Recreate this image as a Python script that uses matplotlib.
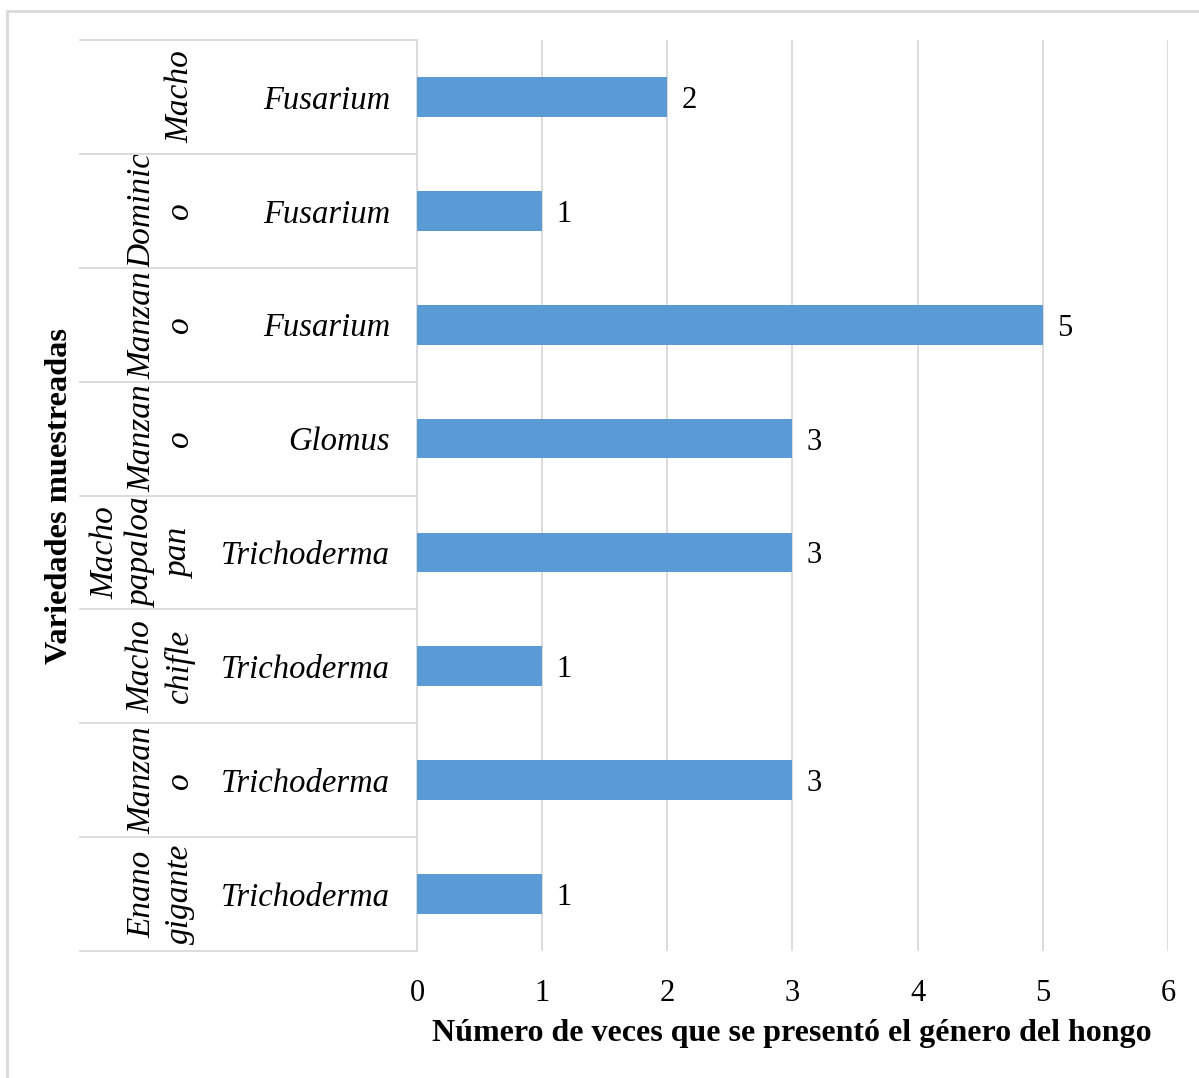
import matplotlib.pyplot as plt
from matplotlib.patches import Rectangle
from matplotlib.lines import Line2D
from matplotlib.transforms import blended_transform_factory

plt.rcParams['font.family'] = ['Liberation Serif', 'DejaVu Serif']

# data, top row first
variedades = ["Macho", "Dominic\no", "Manzan\no", "Manzan\no",
              "Macho\npapaloa\npan", "Macho\nchifle", "Manzan\no", "Enano\ngigante"]
generos = ["Fusarium", "Fusarium", "Fusarium", "Glomus",
           "Trichoderma", "Trichoderma", "Trichoderma", "Trichoderma"]
veces = [2, 1, 5, 3, 3, 1, 3, 1]
x_ticks = [0, 1, 2, 3, 4, 5, 6]

W, H = 1199, 1078
fig = plt.figure(figsize=(W / 100, H / 100), dpi=100)
ax = fig.add_axes([417 / W, 1 - 951 / H, (1168 - 417) / W, (951 - 40) / H])

grid_c = '#D9D9D9'
bar_c = '#5B9BD5'

pos = list(range(len(veces)))
ax.barh(pos, veces, height=0.35, color=bar_c, zorder=3)
for i, v in zip(pos, veces):
    ax.annotate(str(v), (v, i), xytext=(10, 0), textcoords='offset points',
                ha='left', va='center_baseline', fontsize=22)

ax.set_ylim(len(veces) - 0.5, -0.5)
ax.set_xlim(0, 6)
ax.set_xticks(x_ticks)
ax.set_xticklabels([str(t) for t in x_ticks], fontsize=22)
ax.tick_params(axis='x', length=0, pad=20)
ax.set_yticks([])
ax.grid(axis='x', color=grid_c, lw=1.3, zorder=0)
for s in ['top', 'right', 'bottom']:
    ax.spines[s].set_visible(False)
ax.spines['left'].set_color(grid_c)
ax.spines['left'].set_linewidth(1.3)

# category labels left of the axis
tr = blended_transform_factory(fig.transFigure, ax.transData)
for i in pos:
    ax.text(390 / W, i, generos[i], transform=tr, ha='right', va='center_baseline',
            fontsize=23.5, style='italic')
    ax.text(195 / W, i, variedades[i], transform=tr, ha='right', va='center',
            fontsize=24, style='italic', rotation=90, multialignment='center',
            linespacing=1.3)
for k in range(len(veces) + 1):
    fig.add_artist(Line2D([80 / W, 417 / W], [k - 0.5, k - 0.5], transform=tr,
                          color=grid_c, lw=1.3))

fig.text(792 / W, 1 - 1033 / H, "Número de veces que se presentó el género del hongo",
         ha='center', va='center', fontsize=23, fontweight='bold')
fig.text(60 / W, 1 - 496 / H, "Variedades muestreadas", ha='center', va='center',
         fontsize=23.3, fontweight='bold', rotation=90)

# outer chart border
fig.add_artist(Rectangle((7 / W, -0.1), 1.2, 1.1 - 11 / H, transform=fig.transFigure,
                         fill=False, edgecolor=grid_c, lw=2))

fig.savefig('out.png', dpi=100)
